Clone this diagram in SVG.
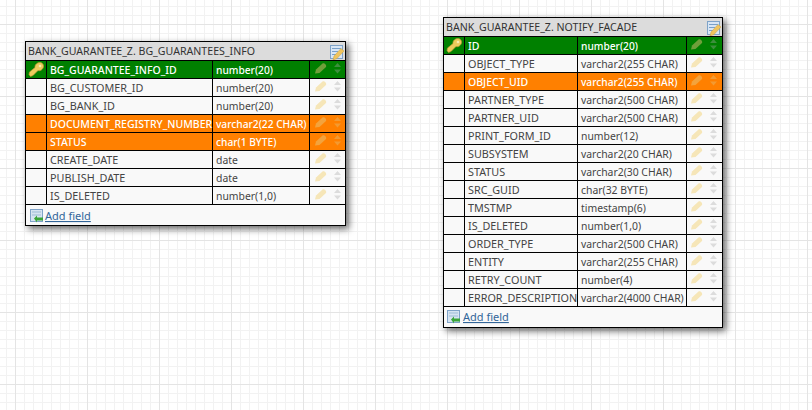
<svg xmlns="http://www.w3.org/2000/svg" width="812" height="410" viewBox="0 0 812 410">
<defs>
<pattern id="grid2" x="15" y="24" width="9" height="9" patternUnits="userSpaceOnUse"><path d="M0.500 0V9M0 0.500H9" fill="none" stroke="#f2f2f2"/></pattern>
<pattern id="grid" x="15" y="24" width="72" height="72" patternUnits="userSpaceOnUse"><path d="M0.500 0V72M0 0.500H72" fill="none" stroke="#e4e4e4"/></pattern>
<filter id="sh" x="-10%" y="-10%" width="125%" height="125%"><feDropShadow dx="3" dy="3" stdDeviation="3.500" flood-color="#000" flood-opacity=".6"/></filter>
<filter id="bl" x="-20%" y="-20%" width="140%" height="140%"><feGaussianBlur stdDeviation=".4"/></filter>
<g id="key"><path d="M2.500 14.500l-1.500 -2 .5 -2.500 5.500 -4.500c-.5 -3 2.500 -5 5 -5s4 2.500 3.500 4.500-3 4.500-5.500 3.500l-5 5z" fill="#eccb5c" stroke="#b8952f" stroke-width=".7"/><circle cx="12" cy="4" r="1.300" fill="#f9ecb0"/></g>
<g id="pen"><path d="M0 10.500l1 -4 6.500 -6c1.500 -1 4.500 1.500 3.500 3.500l-6.500 6z" fill="currentColor" filter="url(#bl)"/></g>
<g id="arrows"><path d="M3.500 0l3.500 4H0zM3.500 10.500l3.500 -4H0z" fill="currentColor" filter="url(#bl)"/></g>
<g id="edit"><rect x=".5" y=".5" width="12" height="13" fill="#d8e6f5" stroke="#7fa3c8"/><path d="M2 3.500h9M2 6.500h6M2 9.500h4" stroke="#7aa0c8"/><path d="M3 15l1 -4 7 -7.500 3 2.500 -7 7.500z" fill="#efc45e" stroke="#c9a03c" stroke-width=".5"/></g>
<g id="add"><rect x=".5" y=".5" width="12" height="12" fill="#d6e4f2" stroke="#7fa3c8"/><path d="M2 3h9M2 6h9" stroke="#9dbcd6"/><path d="M4 9.500l3 -3v2h6v3H7v2z" fill="#3aa53a"/></g>
</defs>
<style>
text{font-family:"Noto Sans","Liberation Sans",sans-serif;font-size:10.800px;fill:#444}
.v{font-size:10.400px}
.w{fill:#fff;font-weight:500;font-size:10.500px}
.wv{fill:#fff;font-weight:500;font-size:10.200px}
.l{fill:#336699;text-decoration:underline;font-size:11px}
.t{fill:#333;font-size:10.600px}
.ln{stroke:#000;stroke-width:1;fill:none}
.pk{fill:#008000}.hl{fill:#ff8000}
</style>
<rect width="812" height="410" fill="#fff"/>
<rect width="812" height="410" fill="url(#grid2)"/>
<rect width="812" height="410" fill="url(#grid)"/>
<g id="connectors"/>
<g id="table-bg-guarantees-info">
<rect x="25.500" y="41.500" width="320" height="184" fill="#f9f9f9" stroke="#000" filter="url(#sh)"/>
<rect x="26" y="42" width="319" height="18" fill="#dcdcdc"/>
<text class="t" x="28" y="55">BANK_GUARANTEE_Z. BG_GUARANTEES_INFO</text>
<use href="#edit" x="330" y="45"/>
<rect class="pk" x="26" y="61" width="319" height="17"/>
<rect class="hl" x="26" y="115" width="319" height="35"/>
<path class="ln" d="M26 60.500H345M26 78.500H345M26 96.500H345M26 114.500H345M26 132.500H345M26 150.500H345M26 168.500H345M26 186.500H345M26 204.500H345M46.500 60V205M212.500 60V205M309.500 60V205"/>
<use href="#key" x="28" y="62"/>
<text class="w" x="50" y="74">BG_GUARANTEE_INFO_ID</text><text class="wv" x="216" y="74">number(20)</text>
<text x="50" y="92">BG_CUSTOMER_ID</text><text class="v" x="216" y="92">number(20)</text>
<text x="50" y="110">BG_BANK_ID</text><text class="v" x="216" y="110">number(20)</text>
<text class="w" x="50" y="128">DOCUMENT_REGISTRY_NUMBER</text><text class="wv" x="216" y="128">varchar2(22 CHAR)</text>
<text class="w" x="50" y="146">STATUS</text><text class="wv" x="216" y="146">char(1 BYTE)</text>
<text x="50" y="164">CREATE_DATE</text><text class="v" x="216" y="164">date</text>
<text x="50" y="182">PUBLISH_DATE</text><text class="v" x="216" y="182">date</text>
<text x="50" y="200">IS_DELETED</text><text class="v" x="216" y="200">number(1,0)</text>
<g color="#6f9f3a"><use href="#pen" x="315" y="63"/></g><g color="#3c8f3c"><use href="#arrows" x="334" y="63"/></g>
<g color="#f6e6b8"><use href="#pen" x="315" y="81"/><use href="#pen" x="315" y="99"/><use href="#pen" x="315" y="153"/><use href="#pen" x="315" y="171"/><use href="#pen" x="315" y="189"/></g>
<g color="#dcdcdc"><use href="#arrows" x="334" y="81"/><use href="#arrows" x="334" y="99"/><use href="#arrows" x="334" y="153"/><use href="#arrows" x="334" y="171"/><use href="#arrows" x="334" y="189"/></g>
<g color="#f3a33c"><use href="#pen" x="315" y="117"/><use href="#pen" x="315" y="135"/></g><g color="#f39a30"><use href="#arrows" x="334" y="117"/><use href="#arrows" x="334" y="135"/></g>
<use href="#add" x="30" y="209"/><text class="l" x="45" y="220">Add field</text>
</g>
<g id="table-notify-facade">
<rect x="443.500" y="17.500" width="279" height="310" fill="#f9f9f9" stroke="#000" filter="url(#sh)"/>
<rect x="444" y="18" width="278" height="18" fill="#dcdcdc"/>
<text class="t" x="446" y="31">BANK_GUARANTEE_Z. NOTIFY_FACADE</text>
<use href="#edit" x="707" y="21"/>
<rect class="pk" x="444" y="37" width="278" height="17"/>
<rect class="hl" x="444" y="73" width="278" height="17"/>
<path class="ln" d="M444 36.500H722M444 54.500H722M444 72.500H722M444 90.500H722M444 108.500H722M444 126.500H722M444 144.500H722M444 162.500H722M444 180.500H722M444 198.500H722M444 216.500H722M444 234.500H722M444 252.500H722M444 270.500H722M444 288.500H722M444 306.500H722M464.500 36V307M577.500 36V307M686.500 36V307"/>
<use href="#key" x="446" y="38"/>
<text class="w" x="468" y="50">ID</text><text class="wv" x="581" y="50">number(20)</text>
<text x="468" y="68">OBJECT_TYPE</text><text class="v" x="581" y="68">varchar2(255 CHAR)</text>
<text class="w" x="468" y="86">OBJECT_UID</text><text class="wv" x="581" y="86">varchar2(255 CHAR)</text>
<text x="468" y="104">PARTNER_TYPE</text><text class="v" x="581" y="104">varchar2(500 CHAR)</text>
<text x="468" y="122">PARTNER_UID</text><text class="v" x="581" y="122">varchar2(500 CHAR)</text>
<text x="468" y="140">PRINT_FORM_ID</text><text class="v" x="581" y="140">number(12)</text>
<text x="468" y="158">SUBSYSTEM</text><text class="v" x="581" y="158">varchar2(20 CHAR)</text>
<text x="468" y="176">STATUS</text><text class="v" x="581" y="176">varchar2(30 CHAR)</text>
<text x="468" y="194">SRC_GUID</text><text class="v" x="581" y="194">char(32 BYTE)</text>
<text x="468" y="212">TMSTMP</text><text class="v" x="581" y="212">timestamp(6)</text>
<text x="468" y="230">IS_DELETED</text><text class="v" x="581" y="230">number(1,0)</text>
<text x="468" y="248">ORDER_TYPE</text><text class="v" x="581" y="248">varchar2(500 CHAR)</text>
<text x="468" y="266">ENTITY</text><text class="v" x="581" y="266">varchar2(255 CHAR)</text>
<text x="468" y="284">RETRY_COUNT</text><text class="v" x="581" y="284">number(4)</text>
<text x="468" y="302">ERROR_DESCRIPTION</text><text class="v" x="581" y="302">varchar2(4000 CHAR)</text>
<g color="#6f9f3a"><use href="#pen" x="691" y="39"/></g><g color="#3c8f3c"><use href="#arrows" x="710" y="39"/></g>
<g color="#f3a33c"><use href="#pen" x="691" y="75"/></g><g color="#f39a30"><use href="#arrows" x="710" y="75"/></g>
<g color="#f6e6b8"><use href="#pen" x="691" y="57"/><use href="#pen" x="691" y="93"/><use href="#pen" x="691" y="111"/><use href="#pen" x="691" y="129"/><use href="#pen" x="691" y="147"/><use href="#pen" x="691" y="165"/><use href="#pen" x="691" y="183"/><use href="#pen" x="691" y="201"/><use href="#pen" x="691" y="219"/><use href="#pen" x="691" y="237"/><use href="#pen" x="691" y="255"/><use href="#pen" x="691" y="273"/><use href="#pen" x="691" y="291"/></g>
<g color="#dcdcdc"><use href="#arrows" x="710" y="57"/><use href="#arrows" x="710" y="93"/><use href="#arrows" x="710" y="111"/><use href="#arrows" x="710" y="129"/><use href="#arrows" x="710" y="147"/><use href="#arrows" x="710" y="165"/><use href="#arrows" x="710" y="183"/><use href="#arrows" x="710" y="201"/><use href="#arrows" x="710" y="219"/><use href="#arrows" x="710" y="237"/><use href="#arrows" x="710" y="255"/><use href="#arrows" x="710" y="273"/><use href="#arrows" x="710" y="291"/></g>
<use href="#add" x="447" y="310"/><text class="l" x="463" y="321">Add field</text>
</g>
</svg>
